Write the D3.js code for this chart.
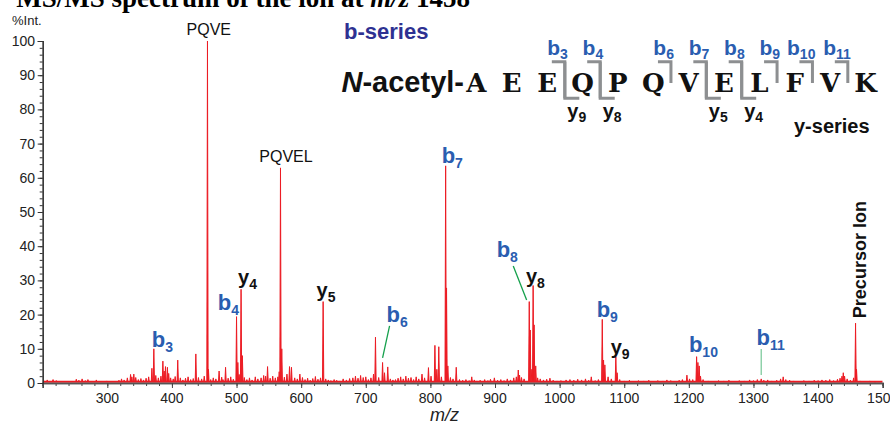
<!DOCTYPE html>
<html>
<head>
<meta charset="utf-8">
<script src="https://cdn.jsdelivr.net/npm/d3@7"></script>
<style>
    body { margin: 0; background: #fff; }
    svg { display: block; }
    text { font-family: Arial, "Liberation Sans", sans-serif; }
</style>
</head>
<body>
<div id="chart"></div>
<script>
// labelled / prominent peaks (m/z, %Int.)
const peakMz  = [369, 372, 386, 390, 393, 409, 437, 455, 456.5, 473, 483, 500, 502, 507, 509, 548, 566, 568, 570, 582, 585, 598,
                 634, 712, 715, 726, 729, 734, 787, 797, 807, 810, 813, 823.6, 825, 827, 840, 864, 936, 938, 953, 954.5, 957, 959,
                 960.5, 963, 1049, 1066, 1068, 1070, 1087, 1089, 1197, 1212, 1214, 1216, 1218, 1312, 1346, 1437, 1439, 1441,
                 1458, 1459.5];
const peakInt = [4.3, 10.0, 6.4, 4.8, 4.6, 6.7, 8.5, 100, 4.0, 3.5, 4.6, 19.4, 6.0, 27.4, 8.0, 4.8, 3.3, 62.9, 10.0, 4.8, 4.6, 2.6,
                 23.8, 2.6, 13.4, 6.0, 3.0, 4.7, 2.6, 4.5, 11.0, 4.0, 10.6, 63.5, 27.8, 5.0, 4.6, 1.8, 3.8, 2.3, 23.8, 15.5, 4.0, 28.5,
                 17.0, 5.0, 1.8, 18.6, 6.7, 5.3, 7.7, 3.0, 2.3, 7.7, 6.0, 5.0, 2.0, 1.2, 1.8, 2.0, 3.0, 2.0,
                 17.5, 4.0];

// small background peaks
const noiseMz  = [203, 207, 212, 216, 221, 246, 252, 256, 261, 266, 270, 275, 283, 289, 299, 318, 322, 326, 331, 336, 338, 341,
                  344, 348, 352, 356, 360, 364, 375, 379, 383, 388, 395, 398, 402, 405, 413, 417, 421, 425, 429, 433, 441, 446,
                  450, 460, 464, 468, 477, 479, 487, 491, 495, 504, 512, 516, 520, 524, 529, 533, 538, 542, 545, 552, 556, 560,
                  564, 574, 578, 590, 594, 602, 606, 610, 614, 618, 622, 626, 630, 638, 642, 646, 651, 655, 660, 665, 670, 675,
                  680, 684, 688, 692, 696, 700, 704, 708, 720, 738, 742, 746, 750, 754, 758, 762, 766, 770, 774, 778, 782, 791,
                  801, 817, 831, 835, 845, 850, 855, 860, 868, 872, 877, 884, 889, 893, 899, 904, 909, 914, 919, 924, 929, 933,
                  941, 945, 966, 970, 975, 980, 985, 990, 996, 1002, 1010, 1016, 1022, 1028, 1034, 1040, 1045, 1055, 1060, 1075,
                  1080, 1093, 1100, 1108, 1115, 1122, 1130, 1138, 1145, 1152, 1160, 1166, 1172, 1178, 1185, 1190, 1201, 1206,
                  1222, 1230, 1238, 1246, 1254, 1262, 1270, 1278, 1286, 1294, 1300, 1306, 1316, 1322, 1328, 1336, 1342, 1350,
                  1356, 1362, 1370, 1378, 1386, 1394, 1400, 1406, 1412, 1418, 1424, 1430, 1434, 1445, 1450, 1455, 1465, 1472,
                  1480, 1488, 1495];
const noiseInt = [0.6, 0.9, 0.5, 1.0, 0.7, 0.5, 1.1, 0.8, 1.2, 0.7, 1.0, 0.5, 0.9, 0.5, 0.6, 0.8, 1.2, 0.9, 1.5, 2.5, 1.8, 2.6,
                  1.6, 1.0, 1.3, 0.9, 1.4, 1.8, 2.2, 1.5, 2.0, 3.5, 2.8, 1.5, 1.2, 1.9, 1.5, 0.9, 1.4, 1.8, 1.0, 1.3, 1.6, 1.2,
                  2.0, 1.0, 1.5, 1.2, 1.7, 1.0, 1.4, 1.8, 1.1, 2.5, 1.6, 1.0, 1.5, 0.9, 1.8, 1.2, 1.5, 2.2, 2.0, 1.4, 2.0, 1.5,
                  1.8, 1.7, 2.6, 1.5, 1.2, 1.6, 1.0, 1.4, 0.8, 1.3, 1.9, 1.1, 1.5, 1.2, 0.9, 0.7, 1.0, 0.8, 0.6, 1.2, 0.9, 1.3,
                  1.5, 2.0, 1.4, 2.2, 1.6, 1.8, 1.0, 1.5, 1.6, 1.2, 0.9, 1.0, 1.4, 1.8, 1.2, 2.0, 1.4, 1.6, 1.0, 1.8, 1.2, 1.5,
                  2.0, 1.8, 1.6, 1.2, 1.0, 0.8, 1.0, 0.7, 0.9, 0.6, 0.8, 1.0, 0.7, 1.1, 1.5, 0.8, 1.0, 0.7, 1.2, 0.9, 1.5, 1.8,
                  1.6, 1.2, 1.5, 1.2, 0.9, 1.1, 1.4, 0.8, 0.6, 0.7, 0.9, 1.0, 0.8, 1.1, 0.9, 1.2, 0.8, 0.7, 1.0, 1.8,
                  1.2, 1.0, 0.6, 0.8, 0.5, 0.7, 0.6, 0.8, 0.5, 0.7, 0.6, 0.9, 0.7, 0.5, 0.8, 1.0, 1.2, 1.0,
                  1.0, 0.6, 0.5, 0.7, 0.6, 0.8, 0.5, 0.7, 0.6, 0.9, 0.7, 1.0, 0.8, 0.9, 0.6, 0.8, 1.2, 1.0,
                  0.8, 0.6, 0.5, 0.7, 0.6, 0.8, 0.7, 0.9, 0.8, 1.0, 0.7, 1.1, 1.4, 1.2, 0.8, 1.5, 0.6, 0.5,
                  0.6, 0.4, 0.5];

// annotated fragment ions
const ionName = ['b', 'b', 'y', 'y', 'b', 'b', 'b', 'y', 'b', 'y', 'b', 'b'];
const ionSub  = ['3', '4', '4', '5', '6', '7', '8', '8', '9', '9', '10', '11'];
const ionMz   = [372, 500, 507, 634, 726, 823.6, 953, 959, 1066, 1087, 1212, 1312];
const ionInt  = [10.0, 19.4, 27.4, 23.8, 6.0, 63.5, 23.8, 28.5, 18.6, 7.7, 7.7, 1.2];

const fragName = ['PQVE', 'PQVEL'];
const fragMz   = [455, 568];
const fragInt  = [100, 62.9];

const precursorMz = 1458, precursorInt = 17.5;

// peptide sequence and cleavages
const residues = ['A', 'E', 'E', 'Q', 'P', 'Q', 'V', 'E', 'L', 'F', 'V', 'K'];
const bIons = [3, 4, 6, 7, 8, 9, 10, 11];
const yIons = [9, 8, 5, 4];

const xTicks = [300, 400, 500, 600, 700, 800, 900, 1000, 1100, 1200, 1300, 1400, 1500];
const yTicks = [0, 10, 20, 30, 40, 50, 60, 70, 80, 90, 100];

// label placement, px relative to the peak top
const ionOffset = {
    b3: [-2, -2], b4: [-18.7, -6.7], y4: [-3, -5], y5: [-6.6, -4.6], b6: [4, -40.5], b7: [-4, -2.5],
    b8: [-32.6, -45], y8: [-7.2, -2.5], b9: [-5.6, -2.7], y9: [-5.2, -2.7], b10: [-7.7, -5], b11: [-4.6, -34]
};
const leaders = {
    b6:  {from: [7, -36.5], to: [0, -4.5], color: '#14a04b'},
    b8:  {from: [-16, -35.6], to: [-2.6, -1.6], color: '#14a04b'},
    b11: {from: [0, -30], to: [0, -4], color: '#7fcb9e'}
};
const fragOffset = {PQVE: [1.3, -6], PQVEL: [5.5, -6]};

const RED = '#ec1c24',
    BLUE = '#2a5db0',
    NAVY = '#2e3192',
    GRAY = '#8d8f91';

let svg,
    plotG,
    spectrumG,
    labelG,
    seqG,
    x,
    y,
    seqX,
    line,
    peaks;

svg = d3.select('#chart')
    .append('svg')
        .attr('width', 890)
        .attr('height', 426);

// clipped heading from the page above
const title = svg.append('text')
    .attr('x', 470)
    .attr('y', 6.5)
    .attr('text-anchor', 'end')
    .style('font-family', '"Liberation Serif", "Times New Roman", serif')
    .style('font-weight', 'bold')
    .style('font-size', '27px');
title.append('tspan').text('MS/MS spectrum of the ion at ');
title.append('tspan').style('font-style', 'italic').text('m/z');
title.append('tspan').text(' 1458');

x = d3.scaleLinear()
    .domain([200, 1500])
    .range([42.7, 882.7]);

y = d3.scaleLinear()
    .domain([0, 100])
    .range([383, 41]);

plotG = svg.append('g').attr('class', 'plot');

svg.append('clipPath')
    .attr('id', 'plot-clip')
    .append('rect')
        .attr('x', x(200))
        .attr('y', 30)
        .attr('width', x(1500) - x(200))
        .attr('height', 353);

spectrumG = plotG.append('g')
    .attr('clip-path', 'url(#plot-clip)');

peaks = peakMz.map((m, i) => ({mz: m, h: peakInt[i]}))
    .concat(noiseMz.map((m, i) => ({mz: m, h: noiseInt[i]})))
    .sort((a, b) => a.mz - b.mz);

line = d3.line()
    .x(d => x(d[0]))
    .y(d => y(d[1]));

// baseline
spectrumG.append('path')
    .attr('d', line([[200, 0.35], [1500, 0.35]]))
    .attr('stroke', RED)
    .attr('stroke-width', 2)
    .attr('fill', 'none');

spectrumG.selectAll('path.peak')
    .data(peaks)
    .join('path')
        .attr('class', 'peak')
        .attr('d', d => line([[d.mz - 1, 0.3], [d.mz, d.h], [d.mz + 1, 0.3]]))
        .attr('fill', RED)
        .attr('stroke', RED)
        .attr('stroke-width', 1)
        .attr('stroke-linejoin', 'miter');

// axes
const xAxisG = plotG.append('g')
    .attr('transform', 'translate(0,' + y(0) + ')');

xAxisG.append('g')
    .call(d3.axisBottom(x).tickValues(d3.range(200, 1501, 20)).tickSize(3).tickFormat(''));
xAxisG.append('g')
    .call(d3.axisBottom(x).tickValues(d3.range(200, 1501, 100)).tickSize(5).tickFormat(''));
xAxisG.selectAll('.domain')
    .attr('stroke', '#555')
    .attr('stroke-width', 1.6);
xAxisG.selectAll('.tick line')
    .attr('stroke', '#444');

plotG.append('g')
    .selectAll('text')
    .data(xTicks)
    .join('text')
        .attr('x', d => x(d))
        .attr('y', 403)
        .attr('text-anchor', 'middle')
        .style('font-size', '14px')
        .attr('fill', '#222')
        .text(d => d);

const yAxisG = plotG.append('g')
    .attr('transform', 'translate(' + x(200) + ',0)');

yAxisG.append('g')
    .call(d3.axisLeft(y).tickValues(d3.range(0, 101, 2)).tickSize(3).tickFormat(''));
yAxisG.append('g')
    .call(d3.axisLeft(y).tickValues(yTicks).tickSize(5).tickFormat(''));
yAxisG.selectAll('.domain')
    .attr('stroke', '#333')
    .attr('stroke-width', 1.2);
yAxisG.selectAll('.tick line')
    .attr('stroke', '#333');

plotG.append('g')
    .selectAll('text')
    .data(yTicks)
    .join('text')
        .attr('x', 35)
        .attr('y', d => y(d))
        .attr('dy', '0.36em')
        .attr('text-anchor', 'end')
        .style('font-size', '14px')
        .attr('fill', '#222')
        .text(d => d);

plotG.append('text')
    .attr('x', 12)
    .attr('y', 25)
    .style('font-size', '13px')
    .attr('fill', '#222')
    .text('%Int.');

plotG.append('text')
    .attr('x', 430)
    .attr('y', 421)
    .style('font-size', '18px')
    .style('font-style', 'italic')
    .attr('fill', '#222')
    .text('m/z');

// peak annotations
labelG = plotG.append('g').attr('class', 'labels');

fragName.forEach((name, i) => {
    let off = fragOffset[name];
    labelG.append('text')
        .attr('x', x(fragMz[i]) + off[0])
        .attr('y', y(fragInt[i]) + off[1])
        .attr('text-anchor', 'middle')
        .style('font-size', '16px')
        .attr('fill', '#111')
        .text(name);
});

ionName.forEach((name, i) => {
    let key = name + ionSub[i],
        off = ionOffset[key],
        px = x(ionMz[i]),
        py = y(ionInt[i]),
        isB = name === 'b',
        t,
        ld = leaders[key];

    if (ld) {
        labelG.append('line')
            .attr('x1', px + ld.from[0])
            .attr('y1', py + ld.from[1])
            .attr('x2', px + ld.to[0])
            .attr('y2', py + ld.to[1])
            .attr('stroke', ld.color)
            .attr('stroke-width', 1.3);
    }

    t = labelG.append('text')
        .attr('x', px + off[0])
        .attr('y', py + off[1])
        .style('font-weight', 'bold')
        .attr('fill', isB ? BLUE : '#111');
    t.append('tspan')
        .style('font-size', isB ? '22px' : '20px')
        .text(name);
    t.append('tspan')
        .attr('dy', 5)
        .style('font-size', '14px')
        .text(ionSub[i]);
});

labelG.append('text')
    .attr('transform', 'translate(' + (x(precursorMz) + 10.5) + ',' + (y(precursorInt) - 5) + ') rotate(-90)')
    .style('font-size', '18px')
    .style('font-weight', 'bold')
    .attr('fill', '#111')
    .text('Precursor Ion');

// sequence diagram
seqG = svg.append('g').attr('class', 'sequence');

seqX = d3.scalePoint()
    .domain(d3.range(residues.length))
    .range([476.4, 865.5]);

const cutX = k => (seqX(k - 1) + seqX(k)) / 2;

seqG.append('text')
    .attr('x', 344)
    .attr('y', 39)
    .style('font-size', '22px')
    .style('font-weight', 'bold')
    .attr('fill', NAVY)
    .text('b-series');

seqG.append('text')
    .attr('x', 794)
    .attr('y', 133)
    .style('font-size', '20px')
    .style('font-weight', 'bold')
    .attr('fill', '#111')
    .text('y-series');

const nTerm = seqG.append('text')
    .attr('x', 464)
    .attr('y', 92)
    .attr('text-anchor', 'end')
    .style('font-size', '29px')
    .style('font-weight', 'bold')
    .attr('fill', '#111');
nTerm.append('tspan').style('font-style', 'italic').text('N');
nTerm.append('tspan').text('-acetyl-');

seqG.selectAll('text.res')
    .data(residues)
    .join('text')
        .attr('class', 'res')
        .attr('x', (d, i) => seqX(i))
        .attr('y', 92)
        .attr('text-anchor', 'middle')
        .style('font-family', '"DejaVu Serif", serif')
        .style('font-size', '26px')
        .style('font-weight', 'bold')
        .attr('fill', '#111')
        .text(d => d);

seqG.selectAll('path.bcut')
    .data(bIons)
    .join('path')
        .attr('class', 'bcut')
        .attr('d', k => {
            let vx = cutX(k),
                hasY = yIons.indexOf(residues.length - k) >= 0;
            return 'M' + (vx - 13) + ',61.7H' + vx + 'V' + (hasY ? 98.3 : 83);
        })
        .attr('fill', 'none')
        .attr('stroke', GRAY)
        .attr('stroke-width', 3);

seqG.selectAll('path.ycut')
    .data(yIons)
    .join('path')
        .attr('class', 'ycut')
        .attr('d', n => {
            let vx = cutX(residues.length - n);
            return 'M' + vx + ',61.7V98.3H' + (vx + 14.5);
        })
        .attr('fill', 'none')
        .attr('stroke', GRAY)
        .attr('stroke-width', 3);

bIons.forEach(k => {
    let t = seqG.append('text')
        .attr('x', cutX(k) + 3)
        .attr('y', 55)
        .attr('text-anchor', 'end')
        .style('font-weight', 'bold')
        .attr('fill', BLUE);
    t.append('tspan').style('font-size', '21px').text('b');
    t.append('tspan').attr('dy', 4).style('font-size', '14px').text(k);
});

yIons.forEach(n => {
    let t = seqG.append('text')
        .attr('x', cutX(residues.length - n) + 2.5)
        .attr('y', 118)
        .style('font-weight', 'bold')
        .attr('fill', '#111');
    t.append('tspan').style('font-size', '20px').text('y');
    t.append('tspan').attr('dy', 4).style('font-size', '14px').text(n);
});
</script>
</body>
</html>
